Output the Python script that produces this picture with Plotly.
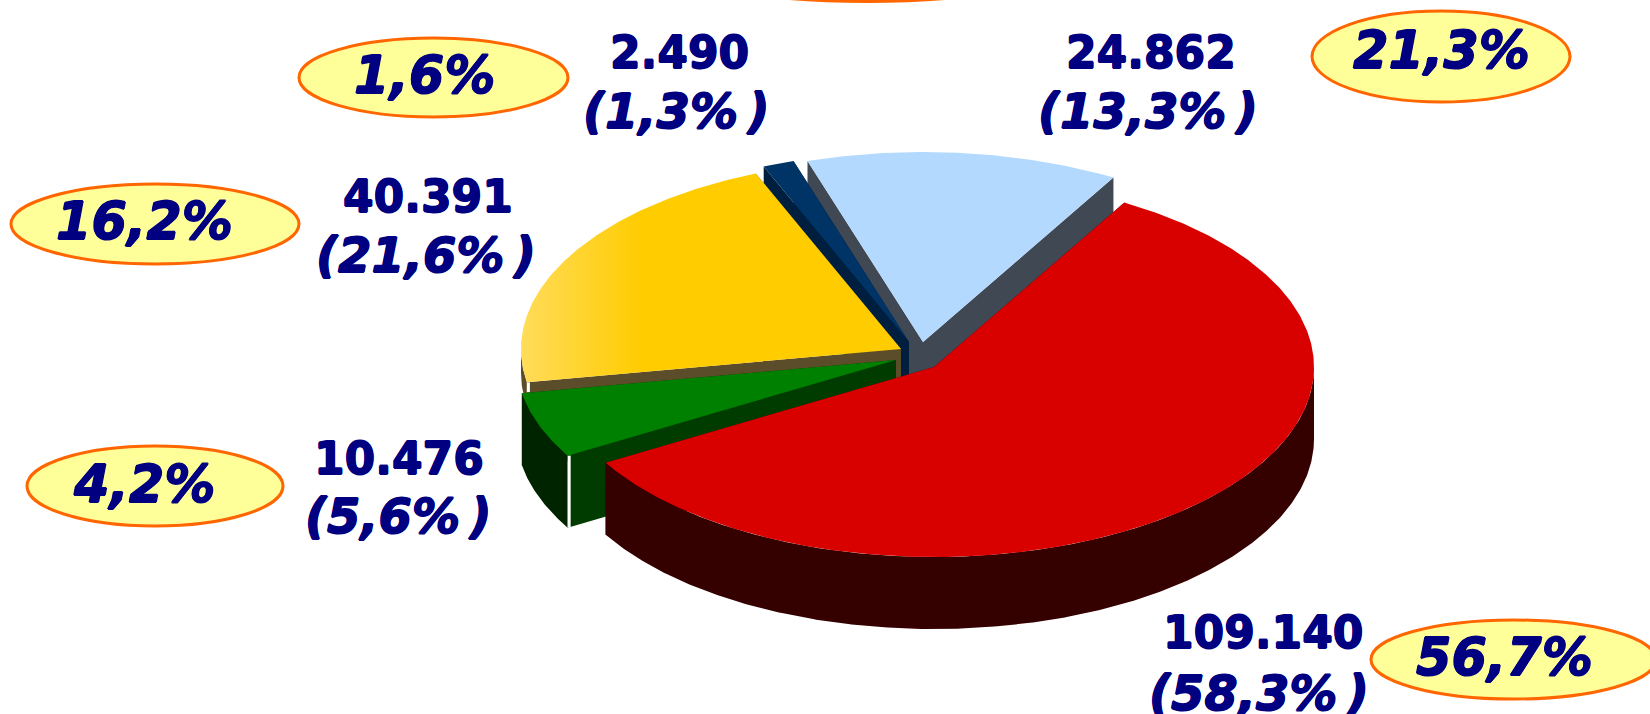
import math
import numpy as np
import plotly.graph_objects as go

# data (clockwise from the light-blue slice)
slice_names = ["Light blue", "Red", "Green", "Yellow", "Navy"]
slice_values = [24862, 109140, 10476, 40391, 2490]
other_shares = [21.3, 56.7, 4.2, 16.2, 1.6]

# style and layout
top_colors = ["#b3d9ff", "#d90000", "#008000", "#ffcc00", "#003366"]
cut_colors = ["#404854", "#350000", "#003c00", "#5b4c2a", "#001f3f"]
arc_colors = ["#404854", "#350000", "#002400", "#5b4c2a", "#001f3f"]
arc_depths = [72, 72, 72, 24, 72]
apex_x = [923, 934, 896, 901, 909]
apex_y = [342, 367, 360, 349, 342]
RX, RY, DEPTH = 380, 190, 72
START_DEG = -17.7
draw_order = [0, 4, 3, 2, 1]

value_pos = [(1151, 52), (1263, 632), (399, 458), (428, 196), (679, 52)]
share_pos = [(1148, 111), (1259, 693), (398, 516), (426, 255), (676, 111)]
callout_boxes = [(1312, 11, 1570, 102), (1371, 620, 1656, 699), (27, 446, 283, 526),
                 (11, 184, 299, 264), (299, 38, 568, 117)]
callout_text_pos = [(1441, 50), (1504, 657), (144, 484), (144, 221), (424, 75)]
hidden_callout = (667, -78, 1067, 1.5)

FONT = "DejaVu Sans"
NAVY = "#000080"
THICK = ",".join(f"{dx}px {dy}px 0 {NAVY}" for dx, dy in
                 [(0.7, 0), (-0.7, 0), (0, 0.7), (0, -0.7)])

total = sum(slice_values)
angles = [v / total * 360 for v in slice_values]
starts = [START_DEG + sum(angles[:i]) for i in range(len(angles))]


def fmt_int(v):
    return f"{v:,}".replace(",", ".")


def fmt_pct(v):
    return f"{v:.1f}%".replace(".", ",")


def pt(i, deg):
    t = math.radians(deg)
    return apex_x[i] + RX * math.sin(t), apex_y[i] - RY * math.cos(t)


def arc(i, d0, d1):
    n = max(2, int(abs(d1 - d0) * 2))
    return [pt(i, d) for d in np.linspace(d0, d1, n)]


def poly(pts, color, **kw):
    xs = [p[0] for p in pts] + [pts[0][0]]
    ys = [p[1] for p in pts] + [pts[0][1]]
    return go.Scatter(x=xs, y=ys, mode="lines", fill="toself", fillcolor=color,
                      line=dict(width=0, color=color), hoverinfo="skip", showlegend=False, **kw)


def wall(a, b):
    return [a, b, (b[0], b[1] + DEPTH), (a[0], a[1] + DEPTH)]


fig = go.Figure()
for i in draw_order:
    d0, d1 = starts[i], starts[i] + angles[i]
    apex = (apex_x[i], apex_y[i])
    # cut faces
    fig.add_trace(poly(wall(apex, pt(i, d0)), cut_colors[i]))
    fig.add_trace(poly(wall(apex, pt(i, d1)), cut_colors[i]))
    # outer wall on the part of the arc that faces the viewer
    lo, hi = max(d0, 90), min(d1, 270)
    if hi > lo:
        a = arc(i, lo, hi)
        fig.add_trace(poly(a + [(x, y + arc_depths[i]) for x, y in reversed(a)], arc_colors[i]))
    # white seam between the outer wall and the cut face
    if slice_names[i] in ("Green", "Yellow"):
        c = pt(i, d0)
        h = DEPTH if slice_names[i] == "Green" else 10
        fig.add_trace(go.Scatter(x=[c[0] + 1.5, c[0] + 1.5], y=[c[1], c[1] + h], mode="lines",
                                 line=dict(color="#ffffff", width=3), hoverinfo="skip", showlegend=False))
    # top face
    top = [apex] + arc(i, d0, d1)
    if slice_names[i] == "Yellow":
        tr = poly(top, "#ffcc00")
        tr.update(fillgradient=dict(type="horizontal",
                                    colorscale=[[0, "#ffdc5a"], [0.32, "#ffcc00"], [1, "#ffcc00"]]))
        fig.add_trace(tr)
    else:
        fig.add_trace(poly(top, top_colors[i]))

shapes = []
for box in callout_boxes + [hidden_callout]:
    shapes.append(dict(type="circle", xref="x", yref="y", x0=box[0], y0=box[1], x1=box[2], y1=box[3],
                       fillcolor="#ffff99", line=dict(color="#ff6600", width=3)))

ann = []
for i, v in enumerate(slice_values):
    ann.append(dict(x=value_pos[i][0], y=value_pos[i][1], text=f"<b>{fmt_int(v)}</b>",
                    font=dict(family=FONT, size=44, color=NAVY, shadow=THICK)))
    ann.append(dict(x=share_pos[i][0], y=share_pos[i][1],
                    text=f"<b><i>({fmt_pct(v / total * 100)}\u2009)</i></b>",
                    font=dict(family=FONT, size=48, color=NAVY, shadow=THICK)))
    ann.append(dict(x=callout_text_pos[i][0], y=callout_text_pos[i][1],
                    text=f"<b><i>{fmt_pct(other_shares[i])}</i></b>",
                    font=dict(family=FONT, size=51, color=NAVY, shadow=THICK)))
for a in ann:
    a.update(xref="x", yref="y", showarrow=False, xanchor="center", yanchor="middle")

fig.update_layout(
    width=1650, height=714, margin=dict(l=0, r=0, t=0, b=0),
    paper_bgcolor="#ffffff", plot_bgcolor="#ffffff", showlegend=False,
    xaxis=dict(range=[0, 1650], visible=False, fixedrange=True),
    yaxis=dict(range=[714, 0], visible=False, fixedrange=True),
    shapes=shapes, annotations=ann,
)
fig.write_html("out.html", config={"displayModeBar": False},
               post_script="document.body.style.margin='0';document.body.style.overflow='hidden';")
